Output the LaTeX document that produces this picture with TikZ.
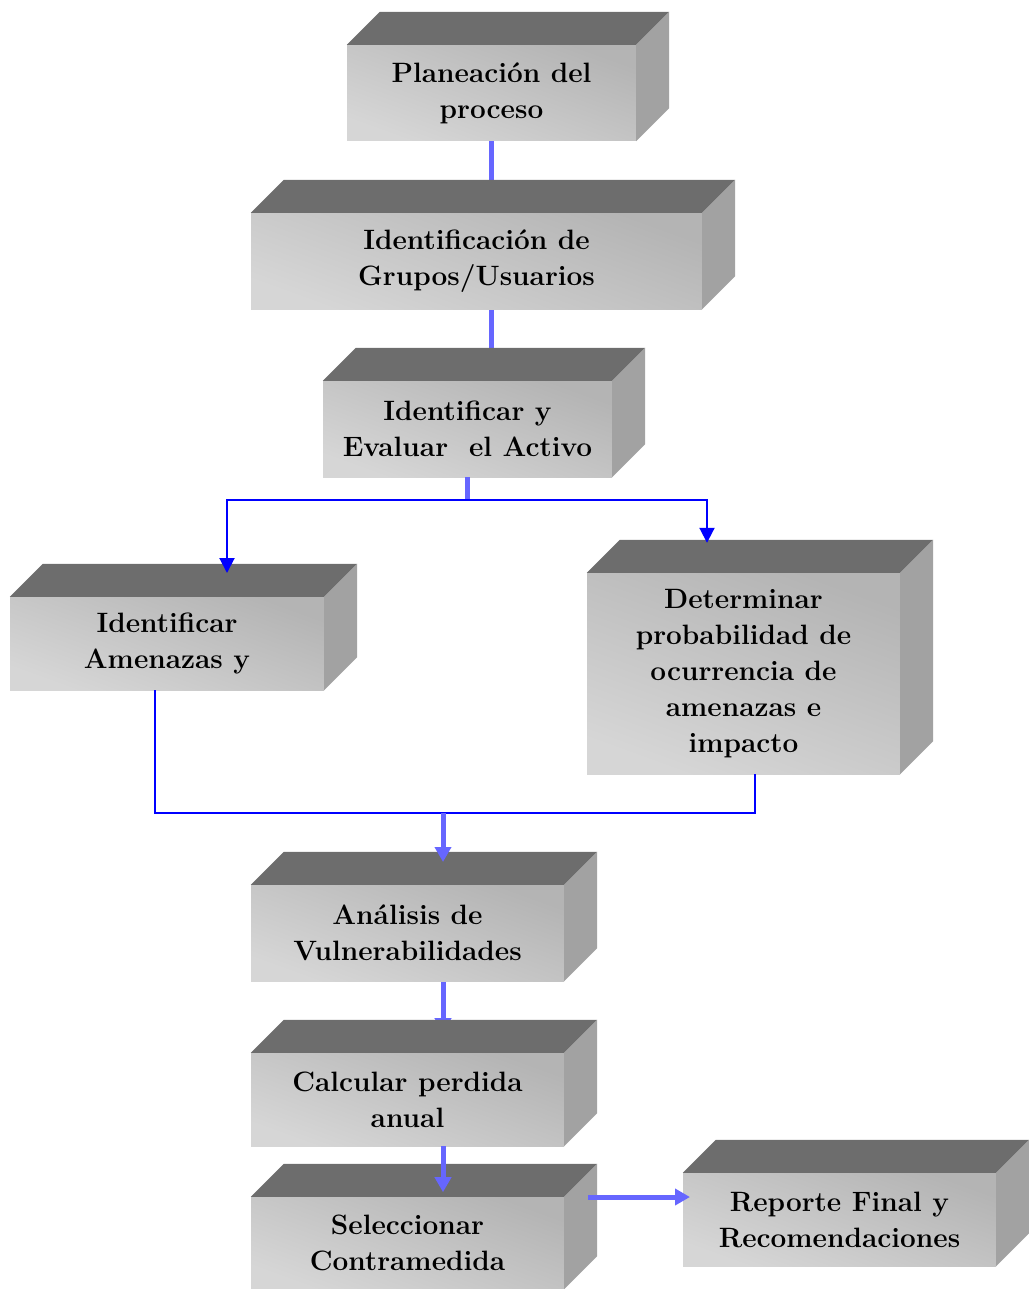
\documentclass[tikz,border=0pt]{standalone}
\usetikzlibrary{arrows.meta,calc}
\definecolor{topc}{HTML}{6D6D6D}
\definecolor{sidec}{HTML}{A2A2A2}
\definecolor{frontdark}{HTML}{B4B4B4}
\definecolor{frontlight}{HTML}{D6D6D6}
\definecolor{thickblue}{HTML}{6666FF}
\definecolor{thinblue}{HTML}{0000FF}
\pgfdeclarelayer{bg}
\pgfsetlayers{bg,main}
\tikzset{
  front/.style={shade, top color=frontdark, bottom color=frontlight, shading angle=-20,
    inner sep=0pt, align=center, font=\fontsize{28}{36}\selectfont\bfseries},
  topface/.style={fill=topc},
  sideface/.style={fill=sidec},
  thickline/.style={draw=thickblue, line width=5pt},
  thinline/.style={draw=thinblue, line width=2pt},
  thickarrow/.style={thickline, -{Triangle[width=16pt,length=15pt]}},
  thinarrow/.style={thinline, -{Triangle[width=15pt,length=15pt]}}
}
\newcommand\cubebox[6]{%
  \node[front, minimum width={(#4-#2)*1pt}, minimum height={(#5-#3)*1pt}] (#1) at ({(#2+#4)/2},{(#3+#5)/2}) {#6};
  \fill[topface] (#1.north west) -- ++(33,-33) -- ([shift={(33,-33)}]#1.north east) -- (#1.north east) -- cycle;
  \fill[sideface] (#1.north east) -- ++(33,-33) -- ([shift={(33,-33)}]#1.south east) -- (#1.south east) -- cycle;
  \coordinate (#1b) at ([shift={(16.5,-33)}]#1.north);
}
\begin{document}
\begin{tikzpicture}[x=1pt,y=-1pt]
\useasboundingbox (0,0) rectangle (1028,1289);
\cubebox{n1}{347}{45}{636}{141}{Planeación del\\proceso}
\cubebox{n2}{251}{213}{702}{309}{Identificación de\\Grupos/Usuarios}
\cubebox{n3}{323}{381}{612}{477}{Identificar y\\Evaluar\ \ el Activo}
\cubebox{n4}{10}{597}{324}{690}{Identificar\\Amenazas y}
\cubebox{n5}{587}{573}{900}{774}{Determinar\\probabilidad de\\ocurrencia de\\amenazas e\\impacto}
\cubebox{n6}{251}{885}{564}{981}{Análisis de\\Vulnerabilidades}
\cubebox{n7}{251}{1053}{564}{1146}{Calcular perdida\\anual}
\cubebox{n8}{251}{1197}{564}{1289}{Seleccionar\\Contramedida}
\cubebox{n9}{683}{1173}{996}{1266}{Reporte Final y\\Recomendaciones}
\coordinate (split) at (467.5,500);
\coordinate (sl) at (227,500);
\coordinate (sr) at (707,500);
\coordinate (j) at (443,813);
\begin{pgfonlayer}{bg}
\draw[thickline] (n1.south) -- (n1.south |- n2b);
\draw[thickline] (n1.south |- n2.south) -- (n1.south |- n3b);
\draw[thickarrow] (j |- n6.south) -- ++(0,52);
\end{pgfonlayer}
\draw[thickline] (n3.south) -- (split);
\draw[thinarrow] (split) -- (sl) -- ++(0,73);
\draw[thinarrow] (split) -- (sr) -- ([yshift=-3pt]sr |- n5b);
\draw[thinline] (155,690) -- (155,813) -- (755,813) -- (755,774);
\draw[thickarrow] (j) -- ++(0,49);
\draw[thickarrow] (j |- n7.south) -- ++(0,46);
\draw[thickarrow] (588,1197) -- ++(102,0);
\end{tikzpicture}
\end{document}
